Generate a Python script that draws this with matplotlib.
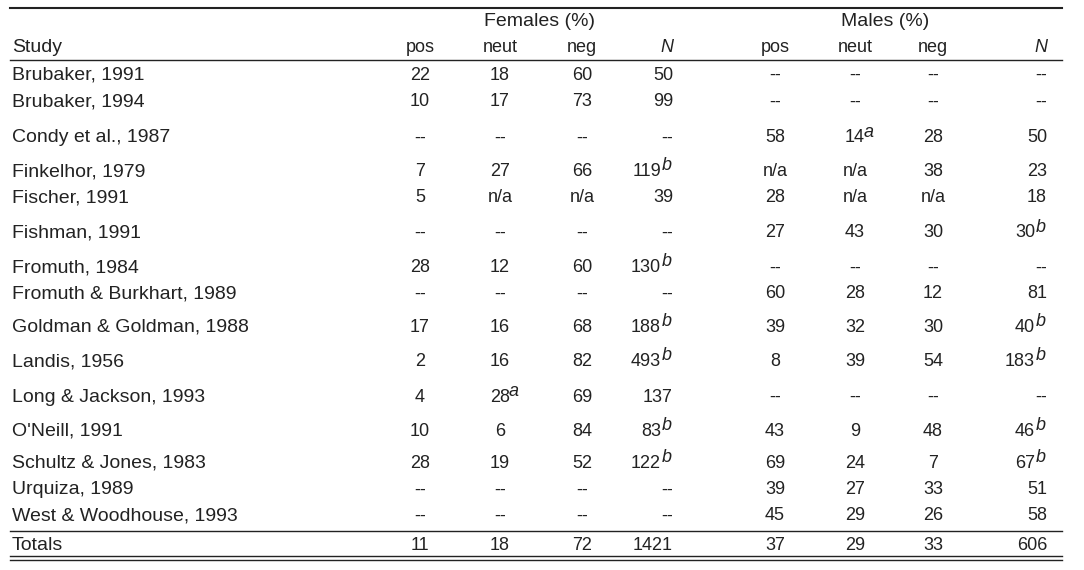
import matplotlib
matplotlib.use('Agg')
import matplotlib.pyplot as plt
from matplotlib.lines import Line2D

plt.rcParams['font.family'] = ['Liberation Sans', 'DejaVu Sans']

studies = ["Brubaker, 1991", "Brubaker, 1994", "Condy et al., 1987", "Finkelhor, 1979",
           "Fischer, 1991", "Fishman, 1991", "Fromuth, 1984", "Fromuth & Burkhart, 1989",
           "Goldman & Goldman, 1988", "Landis, 1956", "Long & Jackson, 1993", "O'Neill, 1991",
           "Schultz & Jones, 1983", "Urquiza, 1989", "West & Woodhouse, 1993"]
female = [["22", "18", "60", "50"], ["10", "17", "73", "99"], ["--", "--", "--", "--"],
          ["7", "27", "66", "119^b"], ["5", "n/a", "n/a", "39"], ["--", "--", "--", "--"],
          ["28", "12", "60", "130^b"], ["--", "--", "--", "--"], ["17", "16", "68", "188^b"],
          ["2", "16", "82", "493^b"], ["4", "28^a", "69", "137"], ["10", "6", "84", "83^b"],
          ["28", "19", "52", "122^b"], ["--", "--", "--", "--"], ["--", "--", "--", "--"]]
male = [["--", "--", "--", "--"], ["--", "--", "--", "--"], ["58", "14^a", "28", "50"],
        ["n/a", "n/a", "38", "23"], ["28", "n/a", "n/a", "18"], ["27", "43", "30", "30^b"],
        ["--", "--", "--", "--"], ["60", "28", "12", "81"], ["39", "32", "30", "40^b"],
        ["8", "39", "54", "183^b"], ["--", "--", "--", "--"], ["43", "9", "48", "46^b"],
        ["69", "24", "7", "67^b"], ["39", "27", "33", "51"], ["45", "29", "26", "58"]]
totals_f = ["11", "18", "72", "1421"]
totals_m = ["37", "29", "33", "606"]
row_y = [75, 102, 138, 172, 198, 233, 268, 294, 327, 362, 397, 431, 463, 490, 516]

W, H = 1084, 570
fig = plt.figure(figsize=(W / 100, H / 100), dpi=100)
C = '#222222'
FS = 13
FS_STUDY = 14


def T(x, y, s, ha='center', **kw):
    fig.text(x / W, 1 - y / H, s, ha=ha, va='center', fontsize=kw.pop('fs', FS), color=C, **kw)


def L(x0, x1, y, lw=1.0):
    fig.add_artist(Line2D([x0 / W, x1 / W], [1 - y / H, 1 - y / H], color=C, lw=lw))


cols_c = [420, 500, 582, None, 775, 855, 933, None]
n_right = {3: 673, 7: 1047}


def cell(ci, y, val):
    base, _, sup = val.partition('^')
    if ci in n_right:
        r = n_right[ci]
        if sup:
            T(r - 12, y, base, ha='right')
            T(r - 11, y - 6, sup, ha='left', style='italic')
        else:
            T(r, y, base, ha='right')
    else:
        T(cols_c[ci], y, base)
        if sup:
            T(cols_c[ci] + 9, y - 6, sup, ha='left', style='italic')


L(10, 1062, 8, 1.5)
T(540, 22, "Females (%)", fs=FS_STUDY)
T(885, 22, "Males (%)", fs=FS_STUDY)
hy = 48
T(12, hy, "Study", ha='left', fs=FS_STUDY)
for i, h in enumerate(["pos", "neut", "neg", "N", "pos", "neut", "neg", "N"]):
    if h == "N":
        T(n_right[i] - 6, hy, h, style='italic')
    else:
        T(cols_c[i], hy, h)
L(10, 1062, 60)

for s, f, m, y in zip(studies, female, male, row_y):
    T(12, y, s, ha='left', fs=FS_STUDY)
    for i, v in enumerate(f + m):
        cell(i, y, v)

L(10, 1062, 531)
T(12, 545, "Totals", ha='left', fs=FS_STUDY)
for i, v in enumerate(totals_f + totals_m):
    cell(i, 545, v)
L(10, 1062, 556)
L(10, 1062, 560)

fig.savefig('out.png', dpi=100)
